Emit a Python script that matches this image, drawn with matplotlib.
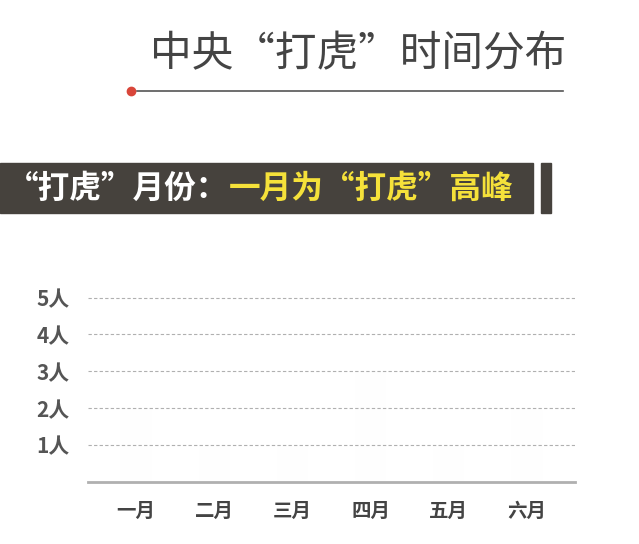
import matplotlib
matplotlib.use("Agg")
import matplotlib.pyplot as plt
from matplotlib.patches import Rectangle
from matplotlib.lines import Line2D

plt.rcParams['font.family'] = ['Noto Sans CJK SC', 'DejaVu Sans']

# data
months = ['一月', '二月', '三月', '四月', '五月', '六月']
# bars are almost invisible in the reference frame (faded animation); rough guesses
counts = [2, 1, 1, 3, 1, 2]
yticks = [1, 2, 3, 4, 5]
ytick_labels = ['1人', '2人', '3人', '4人', '5人']

title = '中央“打虎”时间分布'
banner_white = '“打虎”月份：'
banner_yellow = '一月为“打虎”高峰'

W, H = 639, 544
fig = plt.figure(figsize=(W / 100, H / 100), dpi=100)
fig.patch.set_facecolor('white')

# title and rule with red dot
fig.text(566 / W, 1 - 55 / H, title, ha='right', va='center', fontsize=30,
         fontweight='light', color='#444444')
fig.add_artist(Line2D([137 / W, 563 / W], [1 - 91 / H, 1 - 91 / H],
                      color='#555555', lw=1.2))
fig.add_artist(Line2D([131 / W], [1 - 91 / H], marker='o', markersize=6,
                      color='#d9463a', lw=0))

# banner
fig.add_artist(Rectangle((0, 1 - 213 / H), 533 / W, 50 / H,
                         transform=fig.transFigure, color='#46423d'))
fig.add_artist(Rectangle((541 / W, 1 - 213 / H), 10 / W, 50 / H,
                         transform=fig.transFigure, color='#46423d'))
t1 = fig.text(7 / W, 1 - 189 / H, banner_white, ha='left', va='center',
              fontsize=22.8, fontweight='bold', color='white')
fig.canvas.draw()
bb = t1.get_window_extent(fig.canvas.get_renderer())
fig.text(bb.x1 / W, 1 - 189 / H, banner_yellow, ha='left', va='center',
         fontsize=22.8, fontweight='bold', color='#f5e13a')

# chart
ax = fig.add_axes([88 / W, 1 - 482 / H, 487 / W, 5.5 * 36.9 / H])
x = range(len(months))
ax.bar(x, counts, width=0.4, color='#f0e6e4', alpha=0.02)
ax.set_xlim(-0.614, 5.614)
ax.set_ylim(0, 5.5)
ax.set_yticks(yticks)
ax.set_yticklabels(ytick_labels, fontsize=15, fontweight='bold', color='#555555')
ax.set_xticks(list(x))
ax.set_xticklabels(months, fontsize=14, fontweight='bold', color='#444444')
ax.tick_params(axis='y', length=0, pad=13)
ax.tick_params(axis='x', length=0, pad=14)
ax.grid(axis='y', linestyle=(0, (3, 2)), color='#b0b0b0', lw=0.8)
for s in ['top', 'right', 'left']:
    ax.spines[s].set_visible(False)
ax.spines['bottom'].set_color('#b0b0b0')
ax.spines['bottom'].set_linewidth(2)
ax.set_facecolor('none')

fig.savefig('out.png', dpi=100)
